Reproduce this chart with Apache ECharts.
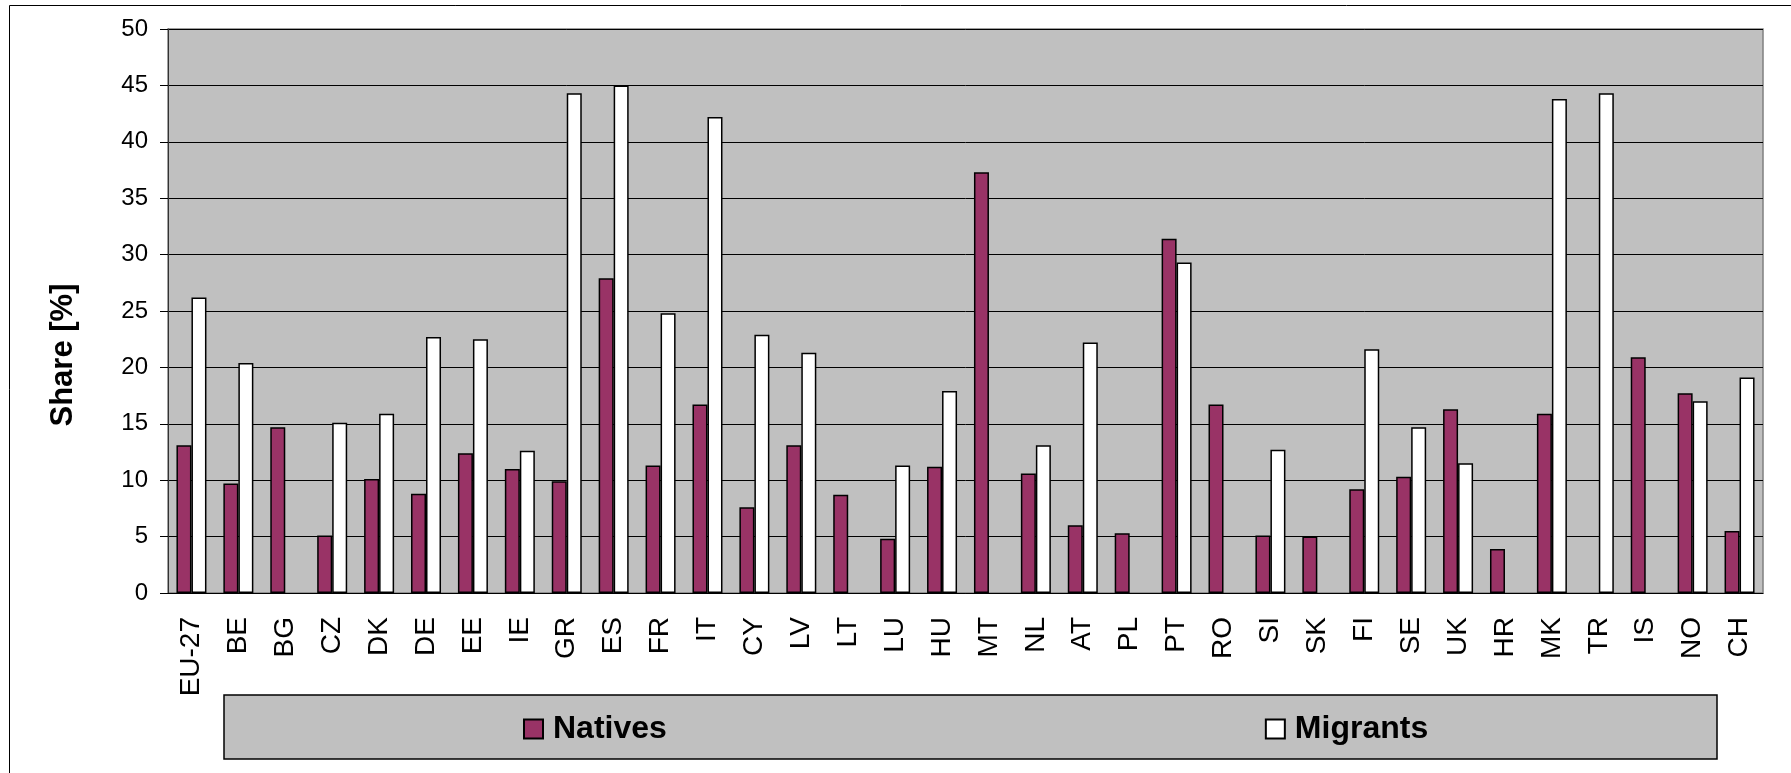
<!DOCTYPE html>
<html>
<head>
<meta charset="utf-8">
<title>Share natives / migrants</title>
<script src="https://cdn.jsdelivr.net/npm/echarts/dist/echarts.min.js"></script>
<style>
  html, body { margin: 0; padding: 0; background: #fff; }
  #main { width: 1791px; height: 773px; }
</style>
</head>
<body>
<div id="main"></div>
<script>
  // data
  const categories = ['EU-27', 'BE', 'BG', 'CZ', 'DK', 'DE', 'EE', 'IE', 'GR', 'ES', 'FR', 'IT', 'CY', 'LV', 'LT', 'LU', 'HU',
    'MT', 'NL', 'AT', 'PL', 'PT', 'RO', 'SI', 'SK', 'FI', 'SE', 'UK', 'HR', 'MK', 'TR', 'IS', 'NO', 'CH'];
  const natives = [13.1, 9.7, 14.7, 5.1, 10.1, 8.8, 12.4, 11.0, 9.9, 27.9, 11.3, 16.7, 7.6, 13.1, 8.7, 4.8, 11.2,
    37.3, 10.6, 6.0, 5.3, 31.4, 16.7, 5.1, 5.0, 9.2, 10.3, 16.3, 3.9, 15.9, null, 20.9, 17.7, 5.5];
  const migrants = [26.2, 20.4, null, 15.1, 15.9, 22.7, 22.5, 12.6, 44.3, 45.0, 24.8, 42.2, 22.9, 21.3, null, 11.3, 17.9,
    null, 13.1, 22.2, null, 29.3, null, 12.7, null, 21.6, 14.7, 11.5, null, 43.8, 44.3, null, 17.0, 19.1];
  const seriesNames = ['Natives', 'Migrants'];
  const yTitle = 'Share [%]';

  const font = '"Liberation Sans", Arial, sans-serif';

  var myChart = echarts.init(document.getElementById('main'));
  myChart.setOption({
    animation: false,
    textStyle: { fontFamily: font, color: '#000' },
    grid: {
      left: 168,
      right: 28,
      top: 29,
      bottom: 180,
      show: true,
      backgroundColor: '#C0C0C0',
      borderColor: '#808080',
      borderWidth: 1.5
    },
    graphic: [
      // outer chart frame (runs off the right/bottom edge)
      {
        type: 'rect',
        z: 0,
        shape: { x: 9.5, y: 5.5, width: 1850, height: 850 },
        style: { fill: null, stroke: '#000', lineWidth: 1 }
      },
      // legend box
      {
        type: 'rect',
        z: 0,
        shape: { x: 224, y: 695, width: 1493, height: 64 },
        style: { fill: '#C0C0C0', stroke: '#000', lineWidth: 1.5 }
      },
      {
        type: 'text',
        z: 5,
        x: 63,
        y: 355,
        rotation: Math.PI / 2,
        style: {
          text: yTitle,
          font: 'bold 31px ' + font,
          fill: '#000',
          align: 'center',
          verticalAlign: 'middle'
        }
      }
    ],
    legend: {
      data: seriesNames,
      left: 523,
      top: 713,
      padding: 0,
      itemWidth: 19,
      itemHeight: 19,
      itemGap: 598,
      icon: 'rect',
      textStyle: { fontSize: 32, fontWeight: 'bold', fontFamily: font, color: '#000', padding: [0, 0, 0, 5] }
    },
    xAxis: {
      type: 'category',
      data: categories,
      axisLine: { lineStyle: { color: '#000', width: 1 } },
      axisTick: { length: 10, lineStyle: { color: '#000' } },
      axisLabel: { rotate: 90, fontSize: 28, margin: 24, color: '#000', fontFamily: font, interval: 0 }
    },
    yAxis: {
      type: 'value',
      min: 0,
      max: 50,
      interval: 5,
      axisLine: { show: true, lineStyle: { color: '#333', width: 1 } },
      axisTick: { show: true, length: 8, lineStyle: { color: '#000' } },
      axisLabel: { fontSize: 24, margin: 20, color: '#000', fontFamily: font },
      splitLine: { lineStyle: { color: '#000', width: 1 } }
    },
    series: [
      {
        name: seriesNames[0],
        type: 'bar',
        data: natives,
        barWidth: 15,
        barGap: '0%',
        itemStyle: { color: '#993366', borderColor: '#000', borderWidth: 1.5 }
      },
      {
        name: seriesNames[1],
        type: 'bar',
        data: migrants,
        barWidth: 15,
        itemStyle: { color: '#FFFFFF', borderColor: '#000', borderWidth: 1.5 }
      }
    ]
  });
</script>
</body>
</html>
